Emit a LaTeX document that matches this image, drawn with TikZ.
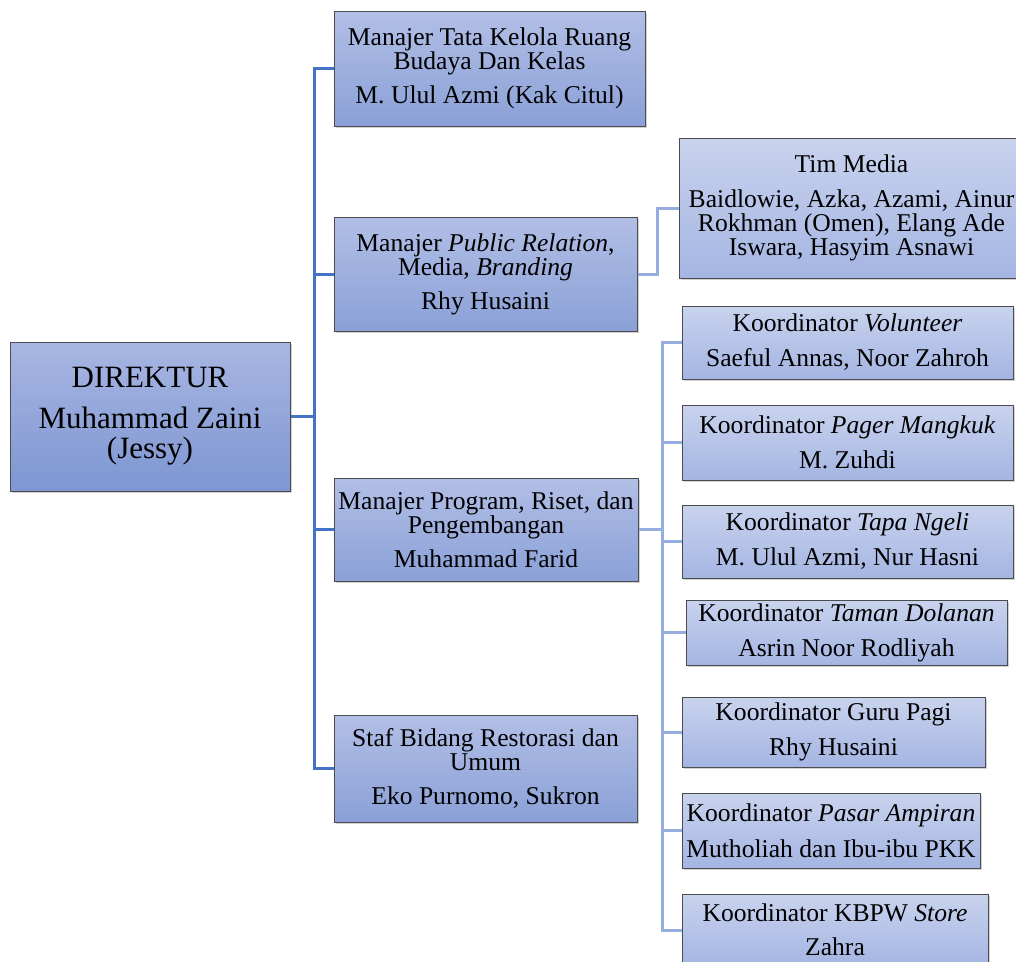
\documentclass[tikz,border=0pt]{standalone}
\usepackage{fontspec}
\setmainfont{Liberation Serif}
\usetikzlibrary{shadows}
\definecolor{linedark}{RGB}{68,114,196}
\definecolor{linelight}{RGB}{150,174,222}
\definecolor{boxborder}{RGB}{75,75,80}
\definecolor{dirtop}{RGB}{168,182,226}
\definecolor{dirbot}{RGB}{126,150,210}
\definecolor{mgrtop}{RGB}{178,191,230}
\definecolor{mgrbot}{RGB}{138,160,215}
\definecolor{subtop}{RGB}{201,211,238}
\definecolor{subbot}{RGB}{164,181,226}
\begin{document}
\begin{tikzpicture}[x=1pt, y=-1pt,
    font=\fontsize{25.6}{24}\selectfont,
    box/.style={draw=boxborder, line width=1pt, align=center, inner sep=0pt,
      drop shadow={shadow xshift=1.5pt, shadow yshift=-1.5pt, opacity=0.35}},
    dirbox/.style={box, top color=dirtop, bottom color=dirbot, font=\fontsize{31}{30}\selectfont},
    mgrbox/.style={box, top color=mgrtop, bottom color=mgrbot},
    subbox/.style={box, top color=subtop, bottom color=subbot},
    mainline/.style={draw=linedark, line width=3pt},
    subline/.style={draw=linelight, line width=3pt}]

    \clip (0,0) rectangle (1016,961);
    \fill[white] (0,0) rectangle (1016,961);

    % direktur dan manajer
    \node[dirbox, minimum width=280pt, minimum height=149pt] (dir) at (150,416.5)
        {DIREKTUR\\[11pt]Muhammad Zaini\\(Jessy)};
    \node[mgrbox, minimum width=311pt, minimum height=115pt] (tatakelola) at (489.5,68.5)
        {Manajer Tata Kelola Ruang\\Budaya Dan Kelas\\[10pt]M. Ulul Azmi (Kak Citul)};
    \node[mgrbox, minimum width=303pt, minimum height=114pt] (pr) at (485.5,274)
        {Manajer \textit{Public Relation},\\Media, \textit{Branding}\\[10pt]Rhy Husaini};
    \node[mgrbox, minimum width=304pt, minimum height=103pt] (program) at (486,529.5)
        {Manajer Program, Riset, dan\\Pengembangan\\[10pt]Muhammad Farid};
    \node[mgrbox, minimum width=303pt, minimum height=107pt] (staf) at (485.5,768.5)
        {Staf Bidang Restorasi dan\\Umum\\[10pt]Eko Purnomo, Sukron};

    % tim dan koordinator
    \node[subbox, minimum width=345pt, minimum height=140pt] (media) at (851.5,208)
        {Tim Media\\[11pt]Baidlowie, Azka, Azami, Ainur\\Rokhman (Omen), Elang Ade\\Iswara, Hasyim Asnawi};
    \node[subbox, minimum width=331pt, minimum height=73pt] (volunteer) at (847.5,342.5)
        {Koordinator \textit{Volunteer}\\[11pt]Saeful Annas, Noor Zahroh};
    \node[subbox, minimum width=331pt, minimum height=75pt] (pager) at (847.5,442.5)
        {Koordinator \textit{Pager Mangkuk}\\[11pt]M. Zuhdi};
    \node[subbox, minimum width=331pt, minimum height=73pt] (tapa) at (847.5,541.5)
        {Koordinator \textit{Tapa Ngeli}\\[11pt]M. Ulul Azmi, Nur Hasni};
    \node[subbox, minimum width=321pt, minimum height=65pt] (taman) at (846.5,632.5)
        {Koordinator \textit{Taman Dolanan}\\[11pt]Asrin Noor Rodliyah};
    \node[subbox, minimum width=303pt, minimum height=70pt] (gurupagi) at (833.5,732)
        {Koordinator Guru Pagi\\[11pt]Rhy Husaini};
    \node[subbox, minimum width=298pt, minimum height=75pt] (pasar) at (831,830.5)
        {Koordinator \textit{Pasar Ampiran}\\[12pt]Mutholiah dan Ibu-ibu PKK};
    \node[subbox, minimum width=306pt, minimum height=72pt] (kbpw) at (835,930)
        {Koordinator KBPW \textit{Store}\\[10pt]Zahra};

    % garis penghubung
    \coordinate (jdir) at (314,416.5);
    \coordinate (jpr) at (657,274);
    \coordinate (jprog) at (662,529.5);

    \draw[mainline] (dir.east) -- (jdir);
    \draw[mainline] (tatakelola.west) -| (jdir);
    \draw[mainline] (pr.west) -| (jdir);
    \draw[mainline] (program.west) -| (jdir);
    \draw[mainline] (staf.west) -| (jdir);

    \draw[subline] (pr.east) -- (jpr) |- (media.west);

    \draw[subline] (program.east) -- (jprog);
    \foreach \k in {volunteer, pager, tapa, taman, gurupagi, pasar, kbpw}
        \draw[subline] (\k.west) -| (jprog);

\end{tikzpicture}
\end{document}
